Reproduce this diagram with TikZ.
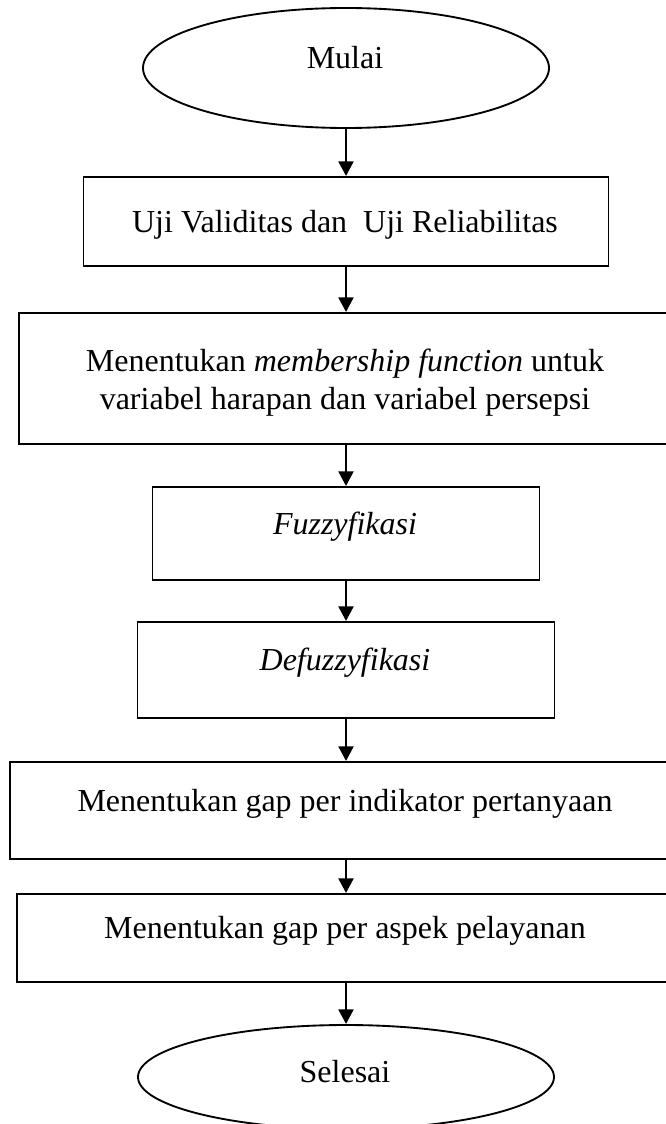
\documentclass[tikz,border=0pt]{standalone}
\usepackage{fontspec}
\setmainfont{Liberation Serif}
\usetikzlibrary{arrows.meta,shapes.geometric}

\begin{document}
\begin{tikzpicture}[x=0.75pt,y=-0.75pt,
  font=\fontsize{24}{28.5}\selectfont,
  term/.style={draw,ellipse,line width=1.4pt,inner sep=0pt},
  box/.style={draw,line width=1.4pt,inner sep=0pt},
  txt/.style={anchor=base,inner sep=0pt,align=center},
  arr/.style={-{Triangle[length=11pt,width=11pt]},line width=2.2pt}]
  \useasboundingbox (0,0) rectangle (666,1124);
  \clip (0,0) rectangle (666,1124);

  % shapes
  \node[term,minimum width=304.5pt,minimum height=90pt] (mulai) at (346,68) {};
  \node[box,minimum width=393.75pt,minimum height=66.75pt] (uji) at (346,221.5) {};
  \node[box,minimum width=490.5pt,minimum height=98.25pt] (mf) at (346,378.5) {};
  \node[box,minimum width=290.25pt,minimum height=69.75pt] (fuzz) at (346,533.5) {};
  \node[box,minimum width=312.75pt,minimum height=72pt] (defuzz) at (346,670) {};
  \node[box,minimum width=504pt,minimum height=72.75pt] (gapind) at (346,810.5) {};
  \node[box,minimum width=493.5pt,minimum height=66pt] (gapasp) at (346,938) {};
  \node[term,minimum width=312pt,minimum height=78pt] (selesai) at (346,1077) {};

  % texts
  \node[txt] (tmulai) at (345,69) {Mulai};
  \node[txt] (tuji) at (345,232) {Uji Validitas dan\ \ Uji Reliabilitas};
  \node[txt] (tmf) at (345,409) {Menentukan \textit{membership function} untuk\\variabel harapan dan variabel persepsi};
  \node[txt] (tfuzz) at (345,534) {\textit{Fuzzyfikasi}};
  \node[txt] (tdefuzz) at (345,670) {\textit{Defuzzyfikasi}};
  \node[txt] (tgapind) at (345,811) {Menentukan gap per indikator pertanyaan};
  \node[txt] (tgapasp) at (345,938) {Menentukan gap per aspek pelayanan};
  \node[txt] (tselesai) at (345,1082) {Selesai};

  \draw[arr] (mulai) -- (uji);
  \draw[arr] (uji) -- (mf);
  \draw[arr] (mf) -- (fuzz);
  \draw[arr] (fuzz) -- (defuzz);
  \draw[arr] (defuzz) -- (gapind);
  \draw[arr] (gapind) -- (gapasp);
  \draw[arr] (gapasp) -- (selesai);
\end{tikzpicture}
\end{document}
